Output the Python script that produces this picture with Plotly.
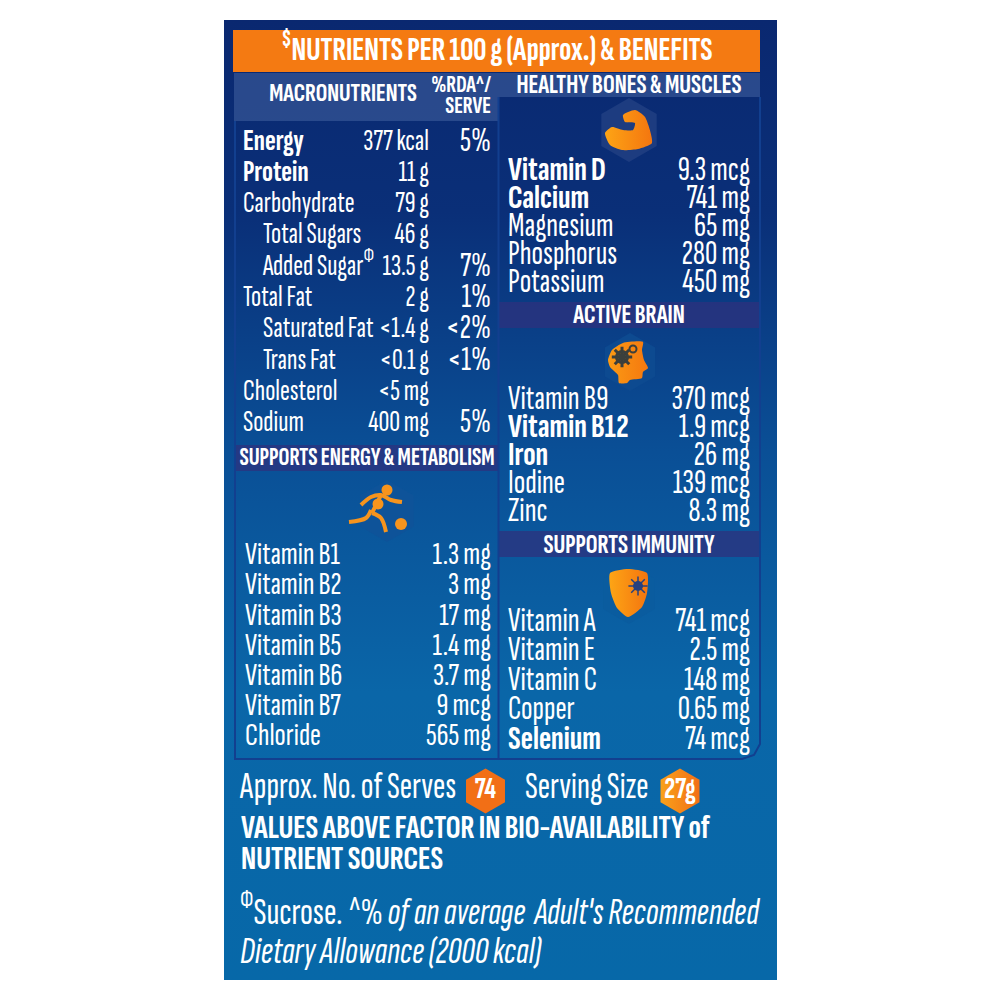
import plotly.graph_objects as go

FONT = "Sofia Sans Extra Condensed, Roboto Condensed, Liberation Sans"
WHITE = "#ffffff"

# table contents
macro_names = ["<b>Energy</b>", "<b>Protein</b>", "Carbohydrate", "Total Sugars", "Added Sugar<sup>Φ</sup>",
               "Total Fat", "Saturated Fat", "Trans Fat", "Cholesterol", "Sodium"]
macro_values = ["377 kcal", "11 g", "79 g", "46 g", "13.5 g", "2 g", "<1.4 g", "<0.1 g", "<5 mg", "400 mg"]
macro_rda = ["5%", "", "", "", "7%", "1%", "<2%", "<1%", "", "5%"]
macro_indent = [0, 0, 0, 1, 1, 0, 1, 1, 0, 0]

energy_names = ["Vitamin B1", "Vitamin B2", "Vitamin B3", "Vitamin B5", "Vitamin B6", "Vitamin B7", "Chloride"]
energy_values = ["1.3 mg", "3 mg", "17 mg", "1.4 mg", "3.7 mg", "9 mcg", "565 mg"]

bones_names = ["<b>Vitamin D</b>", "<b>Calcium</b>", "Magnesium", "Phosphorus", "Potassium"]
bones_values = ["9.3 mcg", "741 mg", "65 mg", "280 mg", "450 mg"]

brain_names = ["Vitamin B9", "<b>Vitamin B12</b>", "<b>Iron</b>", "Iodine", "Zinc"]
brain_values = ["370 mcg", "1.9 mcg", "26 mg", "139 mcg", "8.3 mg"]

immunity_names = ["Vitamin A", "Vitamin E", "Vitamin C", "Copper", "<b>Selenium</b>"]
immunity_values = ["741 mcg", "2.5 mg", "148 mg", "0.65 mg", "74 mcg"]

panel_stops = [0, 0.2, 0.45, 0.7, 1]
panel_colors = ["#0a2870", "#0a2f78", "#0a4f96", "#0a66a8", "#0768a8"]

fig = go.Figure()


def rect(x0, y0, x1, y1, color):
    fig.add_trace(go.Scatter(x=[x0, x1, x1, x0, x0], y=[y0, y0, y1, y1, y0], mode="lines", fill="toself",
                             fillcolor=color, line=dict(width=0), hoverinfo="skip"))


def text(x, y, labels, pos="middle right", size=30, color=WHITE):
    fig.add_trace(go.Scatter(x=x, y=y, text=labels, mode="text", textposition=pos, hoverinfo="skip",
                             textfont=dict(family=FONT, size=size, color=color)))


def rows(names, values, x_name, x_value, y0, step, size):
    ys = [y0 + i * step for i in range(len(names))]
    text([x_name] * len(names), ys, names, size=size)
    text([x_value] * len(values), ys, values, pos="middle left", size=size)


def blob(points, c0, c1, x0, x1):
    # icon outline, orange gradient left to right
    xs = [p[0] for p in points] + [points[0][0]]
    ys = [p[1] for p in points] + [points[0][1]]
    fig.add_trace(go.Scatter(x=xs, y=ys, mode="lines", fill="toself", line=dict(width=0, shape="spline", smoothing=0.6),
                             fillgradient=dict(type="horizontal", start=x0, stop=x1, colorscale=[[0, c0], [1, c1]]),
                             hoverinfo="skip"))


def dots(x, y, size, color, symbol="circle", width=0):
    fig.add_trace(go.Scatter(x=x, y=y, mode="markers", hoverinfo="skip",
                             marker=dict(size=size, color=color, symbol=symbol, line=dict(width=width, color=color))))


# background panel
fig.add_trace(go.Scatter(x=[224, 777, 777, 224, 224], y=[20, 20, 980, 980, 20], mode="lines", fill="toself",
                         line=dict(width=0), hoverinfo="skip",
                         fillgradient=dict(type="vertical", start=20, stop=980,
                                           colorscale=[[s, c] for s, c in zip(panel_stops, panel_colors)])))

# title and section bands
rect(233, 30, 760, 72, "#f47a12")
rect(234, 73, 499, 121, "rgba(80,110,170,0.45)")
rect(499, 73, 760, 97, "rgba(80,110,170,0.45)")
rect(235, 445, 498, 471, "rgba(45,50,125,0.75)")
rect(499, 302, 760, 328, "rgba(45,50,125,0.75)")
rect(499, 531, 760, 557, "rgba(45,50,125,0.75)")

# table frame
fig.add_trace(go.Scatter(x=[235, 235, 742, 754, 760, 760], y=[121, 759, 759, 755, 744, 97], mode="lines",
                         line=dict(color="#123f8f", width=2), hoverinfo="skip"))
fig.add_trace(go.Scatter(x=[498.5, 498.5], y=[97, 759], mode="lines",
                         line=dict(color="#123f8f", width=2), hoverinfo="skip"))

# icon backdrops
dots([629], [130], 64, "#1d3c80", "hexagon")
dots([630], [362], 58, "#0d4a90", "hexagon")
dots([387], [511], 62, "#0e5399", "hexagon")
dots([629], [594], 60, "#0a5c9f", "hexagon")

# muscle
blob([(605, 133), (612, 127), (623, 130), (633, 130), (635, 123), (625, 122), (623, 115), (635, 110), (645, 117),
      (652, 143), (638, 149), (622, 150), (610, 145)], "#fda415", "#f4760f", 605, 652)

# head with gears
blob([(608, 360), (612, 350), (623, 343), (643, 342), (642, 350), (644, 360), (648, 368), (643, 372), (642, 378),
      (630, 380), (627, 383), (619, 383), (618, 375), (610, 367)], "#fb9a14", "#f5780f", 608, 648)
dots([622], [357], 17, "#3b3f3c", "asterisk-open", 3)
dots([622], [357], 11, "#3b3f3c", "circle-open", 3)
dots([633], [349], 7, "#3b3f3c", "circle-open", 2)

# shield with virus
blob([(610, 573), (628, 569), (647, 573), (647, 593), (642, 607), (628, 617), (617, 608), (611, 593)],
     "#fda415", "#f4760f", 610, 647)
dots([638], [586], 16, "#26407f", "asterisk-open", 1.5)
dots([638], [586], 10, "#26407f")

# runner
runner_orange = "#f7941d"
for px, py in [([361, 371, 381, 391, 402], [505, 497, 495, 500, 502]),
               ([381, 372], [495, 513]),
               ([372, 381, 386], [513, 518, 532]),
               ([371, 366, 349], [510, 518, 522])]:
    fig.add_trace(go.Scatter(x=px, y=py, mode="lines", hoverinfo="skip",
                             line=dict(color=runner_orange, width=4, shape="spline")))
dots([378], [504], 11, runner_orange, "circle")
dots([387], [490], 11, runner_orange)
dots([401], [524], 12, runner_orange)

# header text
text([497], [52], ["<b><sup>$</sup>NUTRIENTS PER 100 g (Approx.) & BENEFITS</b>"], pos="middle center", size=33)
text([343], [94], ["<b>MACRONUTRIENTS</b>"], pos="middle center", size=26.5)
text([491], [86], ["<b>%RDA^/</b>"], pos="middle left", size=24)
text([491], [107], ["<b>SERVE</b>"], pos="middle left", size=24)
text([629], [86], ["<b>HEALTHY BONES & MUSCLES</b>"], pos="middle center", size=27)
text([629], [316], ["<b>ACTIVE BRAIN</b>"], pos="middle center", size=27)
text([367], [459], ["<b>SUPPORTS ENERGY & METABOLISM</b>"], pos="middle center", size=25)
text([629], [546], ["<b>SUPPORTS IMMUNITY</b>"], pos="middle center", size=27)

# macronutrients table
macro_y = [142 + i * 31.3 for i in range(len(macro_names))]
text([243 + 20 * n for n in macro_indent], macro_y, macro_names)
text([429] * len(macro_values), macro_y, macro_values, pos="middle left")
rda_rows = [i for i, r in enumerate(macro_rda) if r]
text([491] * len(rda_rows), [macro_y[i] for i in rda_rows], [macro_rda[i] for i in rda_rows],
     pos="middle left", size=34)

# nutrient groups
rows(energy_names, energy_values, 245, 491, 556, 30.2, 33)
rows(bones_names, bones_values, 508, 750, 171, 28.2, 34)
rows(brain_names, brain_values, 508, 750, 400, 28.2, 34)
rows(immunity_names, immunity_values, 508, 750, 622, 29.5, 34)

# footer
dots([485.5], [791], 45, "#f26f16", "hexagon")
fig.add_trace(go.Scatter(x=[680], y=[791], mode="markers", hoverinfo="skip",
                         marker=dict(size=45, color="#f9a11a", symbol="hexagon",
                                     gradient=dict(type="horizontal", color="#f26f16"))))
text([240, 525], [789, 789], ["Approx. No. of Serves", "Serving Size"], size=37.5)
text([485.5, 680], [790, 790], ["<b>74</b>", "<b>27g</b>"], pos="middle center", size=30)
text([241, 241], [829, 860], ["<b>VALUES ABOVE FACTOR IN BIO-AVAILABILITY of</b>", "<b>NUTRIENT SOURCES</b>"], size=34)
text([240, 240], [914, 953], ["<sup>Φ</sup>Sucrose. <i>^% of an average  Adult's Recommended</i>",
                              "<i>Dietary Allowance (2000 kcal)</i>"], size=38)

# the page keeps its 8px body margin, so the axes start at 8 to line up with window pixels
fig.update_layout(
    width=1000, height=1000, margin=dict(l=0, r=0, t=0, b=0),
    paper_bgcolor=WHITE, plot_bgcolor=WHITE, showlegend=False,
    xaxis=dict(range=[8, 1008], visible=False, fixedrange=True),
    yaxis=dict(range=[1008, 8], visible=False, fixedrange=True),
)

fig.write_html("out.html")
